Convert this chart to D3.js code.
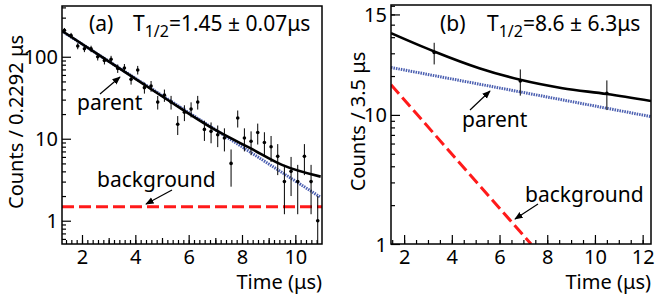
<!DOCTYPE html>
<html>
<head>
<meta charset="utf-8">
<script src="https://cdn.jsdelivr.net/npm/d3@7"></script>
<style>
  body { margin: 0; background: #fff; }
  text { font-family: "Noto Sans", sans-serif; }
</style>
</head>
<body>
<script>
// panel (a): decay data, bin width 0.2292 us
var timeA = [1.34, 1.59, 1.84, 2.09, 2.34, 2.59, 2.84, 3.09, 3.34, 3.59,
             3.84, 4.09, 4.34, 4.59, 4.84, 5.09, 5.34, 5.59, 5.84, 6.09,
             6.34, 6.59, 6.84, 7.09, 7.34, 7.59, 7.84, 8.09, 8.34, 8.59,
             8.84, 9.09, 9.34, 9.59, 9.84, 10.09, 10.34, 10.59, 10.84];
var countsA = [210, 182, 135, 125, 125, 100, 90, 93, 72, 73,
               53, 69, 42, 44, 28, 34, 28, 15, 21, 23,
               28, 13, 12.3, 11.2, 10.2, 5.0, 17.9, 10.2, 9.3, 11.9,
               9.0, 8.0, 6.1, 3.0, 4.0, 3.0, 6.1, 3.0, 1.0];
var errA = [14.5, 13.5, 11.6, 11.2, 11.2, 10, 9.5, 9.6, 8.5, 8.5,
            7.3, 8.3, 6.5, 6.6, 5.3, 5.8, 5.3, 3.9, 4.6, 4.8,
            5.3, 3.6, 3.5, 3.3, 3.2, 2.4, 4.2, 3.2, 3.0, 3.4,
            3.0, 2.8, 2.5, 1.8, 2.0, 1.8, 2.5, 1.8, 1.0];

// fit curves
var totalA_t = [1.25, 3, 5, 7, 8.4, 9.5, 10.95];
var totalA_y = [207, 88, 33, 12.8, 7.4, 4.8, 3.45];
var parentA_t = [1.25, 10.95];
var parentA_y = [205, 1.93];
var bkgA_t = [1.25, 11.0];
var bkgA_y = [1.48, 1.48];

// panel (b): 3.5 us bins
var timeB = [3.26, 6.87, 10.5];
var countsB = [30.4, 18.3, 14.7];
var errB = [5.8, 4.2, 3.8];

var totalB_t = [1.45, 3.26, 5.15, 6.87, 8.64, 10.5, 12.35];
var totalB_y = [43, 31, 23, 18.7, 16.1, 14.5, 12.8];
var parentB_t = [1.45, 12.35];
var parentB_y = [23.3, 9.7];
var bkgB_t = [1.45, 7.32];
var bkgB_y = [17.1, 1.0];

// axis ticks and labels
var xLabelTicksA = [2, 4, 6, 8, 10];
var xLabelTicksB = [2, 4, 6, 8, 10, 12];
var yLabelTicksA = [1, 10, 100];
var yLabelsA = ["1", "10", "100"];
var yLabelTicksB = [1, 10, 60];
var yLabelsB = ["1", "10", "15"];

var width = 655, height = 297;

var svg = d3.select("body").append("svg")
    .attr("width", width)
    .attr("height", height);

var defs = svg.append("defs");
defs.append("marker")
    .attr("id", "arrow")
    .attr("viewBox", "0 0 10 10")
    .attr("refX", 9).attr("refY", 5)
    .attr("markerWidth", 7).attr("markerHeight", 7)
    .attr("orient", "auto")
  .append("path")
    .attr("d", "M0,1 L10,5 L0,9 z")
    .attr("fill", "#000");

function minorLog(lo, hi) {
  var out = [];
  [0.1, 1, 10, 100].forEach(function(dec) {
    for (var k = 2; k <= 9; k++) {
      var v = k * dec;
      if (v > lo && v < hi) out.push(v);
    }
  });
  return out;
}

function drawPanel(p) {
  var g = svg.append("g");
  var x = d3.scaleLinear().domain(p.xDomain).range([p.left, p.right]);
  var y = d3.scaleLog().domain(p.yDomain).range([p.bottom, p.top]);

  g.append("clipPath").attr("id", p.id + "clip")
    .append("rect")
      .attr("x", p.left).attr("y", p.top)
      .attr("width", p.right - p.left).attr("height", p.bottom - p.top);

  // x axis: minor, mid, labelled ticks pointing into the frame
  g.append("g").attr("transform", "translate(0," + p.bottom + ")")
    .call(d3.axisBottom(x).tickValues(p.xMinor).tickSize(-4).tickFormat(""));
  if (p.xMid) {
    g.append("g").attr("transform", "translate(0," + p.bottom + ")")
      .call(d3.axisBottom(x).tickValues(p.xMid).tickSize(-6).tickFormat(""));
  }
  g.append("g").attr("class", "xlab").attr("transform", "translate(0," + p.bottom + ")")
    .call(d3.axisBottom(x).tickValues(p.xTicks).tickSize(-9).tickPadding(6)
      .tickFormat(function(d) { return d; }));

  // y axis
  g.append("g").attr("transform", "translate(" + p.left + ",0)")
    .call(d3.axisLeft(y).tickValues(minorLog(p.yDomain[0], p.yDomain[1])).tickSize(-4).tickFormat(""));
  g.append("g").attr("class", "ylab").attr("transform", "translate(" + p.left + ",0)")
    .call(d3.axisLeft(y).tickValues(p.yTicks).tickSize(-9).tickPadding(4)
      .tickFormat(function(d, i) { return p.yLabels[i]; }));

  g.selectAll(".domain").remove();
  g.selectAll(".tick line").attr("stroke", "#000").attr("stroke-width", 1.2);
  g.selectAll(".xlab text, .ylab text")
    .attr("font-size", 20)
    .attr("font-family", "Noto Sans")
    .attr("fill", "#000");
  g.selectAll(".xlab text").attr("dy", "0.71em");
  g.selectAll(".ylab text").attr("dy", "0.35em");

  var plot = g.append("g").attr("clip-path", "url(#" + p.id + "clip)");

  function curve(ts, ys) {
    return d3.line()
      .x(function(d, i) { return x(ts[i]); })
      .y(function(d) { return y(d); })
      .curve(d3.curveMonotoneX)(ys);
  }

  // background (red dashed)
  plot.append("path").attr("d", curve(p.bkgT, p.bkgY))
    .attr("fill", "none").attr("stroke", "#ff1a1a")
    .attr("stroke-width", 3).attr("stroke-dasharray", "12,5");
  // parent (blue dotted)
  plot.append("path").attr("d", curve(p.parT, p.parY))
    .attr("fill", "none").attr("stroke", "#4a5eb0")
    .attr("stroke-width", 3).attr("stroke-dasharray", "1.5,1");

  // data points with error bars
  var yMin = p.yDomain[0];
  plot.selectAll(".err").data(p.counts).enter().append("line")
    .attr("x1", function(d, i) { return x(p.time[i]); })
    .attr("x2", function(d, i) { return x(p.time[i]); })
    .attr("y1", function(d, i) { return y(Math.max(d - p.err[i], yMin)); })
    .attr("y2", function(d, i) { return y(d + p.err[i]); })
    .attr("stroke", "#000").attr("stroke-width", 1);
  plot.selectAll(".pt").data(p.counts).enter().append("circle")
    .attr("cx", function(d, i) { return x(p.time[i]); })
    .attr("cy", function(d) { return y(d); })
    .attr("r", 1.8).attr("fill", "#000");

  // total fit (black)
  plot.append("path").attr("d", curve(p.totT, p.totY))
    .attr("fill", "none").attr("stroke", "#000").attr("stroke-width", 2.6);

  // frame
  g.append("rect")
    .attr("x", p.left).attr("y", p.top)
    .attr("width", p.right - p.left).attr("height", p.bottom - p.top)
    .attr("fill", "none").attr("stroke", "#000").attr("stroke-width", 1.5);

  // axis titles
  g.append("text")
    .attr("transform", "translate(" + p.yTitleX + "," + ((p.top + p.bottom) / 2 - 3) + ") rotate(-90)")
    .attr("text-anchor", "middle")
    .attr("font-size", 20)
    .text(p.yTitle);
  g.append("text")
    .attr("x", p.right).attr("y", 289)
    .attr("text-anchor", "end")
    .attr("font-size", 20)
    .text("Time (\u03bcs)");

  // panel tag and half-life
  g.append("text").attr("x", p.tagX).attr("y", 31).attr("font-size", 21).text(p.tag);
  var t = g.append("text").attr("x", p.halfX).attr("y", 31).attr("font-size", 21);
  t.append("tspan").text("T");
  t.append("tspan").attr("font-size", 16).attr("dy", 6).text("1/2");
  t.append("tspan").attr("dy", -6).text(p.half);

  // annotations
  p.notes.forEach(function(n) {
    g.append("text").attr("x", n.x).attr("y", n.y).attr("font-size", 21).text(n.text);
    g.append("line")
      .attr("x1", n.ax1).attr("y1", n.ay1).attr("x2", n.ax2).attr("y2", n.ay2)
      .attr("stroke", "#000").attr("stroke-width", 1.2)
      .attr("marker-end", "url(#arrow)");
  });
}

function range(a, b, s) { return d3.range(a, b + 1e-9, s).map(function(v) { return +v.toFixed(2); }); }

drawPanel({
  id: "a", left: 62, right: 322, top: 6, bottom: 244,
  xDomain: [1.25, 11.0], yDomain: [0.52, 416],
  xTicks: xLabelTicksA, xMid: [3, 5, 7, 9], xMinor: range(1.4, 10.8, 0.2),
  yTicks: yLabelTicksA, yLabels: yLabelsA,
  time: timeA, counts: countsA, err: errA,
  totT: totalA_t, totY: totalA_y, parT: parentA_t, parY: parentA_y, bkgT: bkgA_t, bkgY: bkgA_y,
  yTitle: "Counts / 0.2292 \u03bcs", yTitleX: 23,
  tag: "(a)", tagX: 89, half: "=1.45 \u00b1 0.07\u03bcs", halfX: 133,
  notes: [
    { text: "parent", x: 77, y: 110, ax1: 100, ay1: 94, ax2: 120, ay2: 77 },
    { text: "background", x: 97, y: 187, ax1: 172, ay1: 190, ax2: 146, ay2: 204 }
  ]
});

drawPanel({
  id: "b", left: 391, right: 651, top: 5, bottom: 244,
  xDomain: [1.45, 12.35], yDomain: [1, 71],
  xTicks: xLabelTicksB, xMid: null, xMinor: range(1.5, 12, 0.5),
  yTicks: yLabelTicksB, yLabels: yLabelsB,
  time: timeB, counts: countsB, err: errB,
  totT: totalB_t, totY: totalB_y, parT: parentB_t, parY: parentB_y, bkgT: bkgB_t, bkgY: bkgB_y,
  yTitle: "Counts / 3.5 \u03bcs", yTitleX: 365,
  tag: "(b)", tagX: 440, half: "=8.6 \u00b1 6.3\u03bcs", halfX: 487,
  notes: [
    { text: "parent", x: 462, y: 127, ax1: 470, ay1: 110, ax2: 490, ay2: 91 },
    { text: "background", x: 525, y: 202, ax1: 538, ay1: 204, ax2: 515, ay2: 219 }
  ]
});
</script>
</body>
</html>
